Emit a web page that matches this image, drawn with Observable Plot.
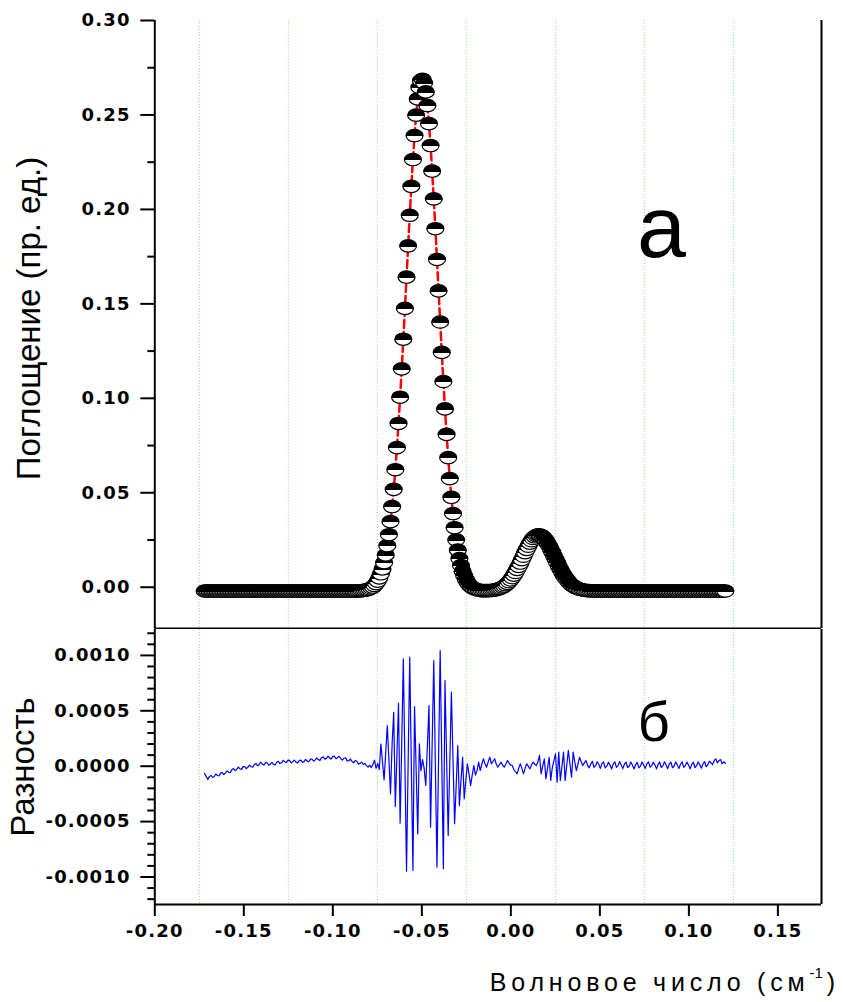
<!DOCTYPE html>
<html>
<head>
<meta charset="utf-8">
<script src="https://cdn.jsdelivr.net/npm/d3@7"></script>
<script src="https://cdn.jsdelivr.net/npm/@observablehq/plot@0.6"></script>
<style>
  html, body { margin: 0; padding: 0; background: #fff; }
  #chart svg { display: block; }
  #chart g[aria-label$="tick label"] text { font-family: "DejaVu Sans", sans-serif; font-size: 18px; font-weight: bold; letter-spacing: 1.2px; }
  #xtitle { position: absolute; top: 968px; right: 3px; font-family: "Liberation Sans", Arial, sans-serif;
            font-size: 25px; letter-spacing: 4.8px; color: #000; white-space: nowrap; }
  #xtitle sup { font-size: 15px; position: relative; top: -4px; letter-spacing: 0; margin-right: 4px; }
</style>
</head>
<body>
<svg width="0" height="0" style="position:absolute">
  <defs>
    <linearGradient id="halfFill" x1="0" y1="0" x2="0" y2="1">
      <stop offset="0" stop-color="#000"/>
      <stop offset="0.56" stop-color="#000"/>
      <stop offset="0.56" stop-color="#fff"/>
      <stop offset="1" stop-color="#fff"/>
    </linearGradient>
  </defs>
</svg>
<div id="chart"></div>
<div id="xtitle">Волновое число (см<sup>-1</sup>)</div>
<script>
// ---- data (uniform sampling in wavenumber) ----
const xStart = -0.172;
const xStep = 0.0009;

// absorption, units of 1e-4
const absorption = [
-20,-20,-20,-20,-20,-20,-20,-20,-20,-20,
-20,-20,-20,-20,-20,-20,-20,-20,-20,-20,
-20,-20,-20,-20,-20,-20,-20,-20,-20,-20,
-20,-20,-20,-20,-20,-20,-20,-20,-20,-20,
-20,-20,-20,-20,-20,-20,-20,-20,-20,-20,
-20,-20,-20,-20,-20,-20,-20,-20,-20,-20,
-20,-20,-20,-20,-20,-20,-20,-20,-20,-20,
-20,-20,-20,-20,-20,-20,-20,-20,-20,-20,
-20,-20,-20,-20,-20,-20,-20,-20,-20,-20,
-20,-20,-20,-20,-20,-20,
-19,-19,-18,-17,-16,-14,-12,-9,-4,1,
9,19,32,49,71,97,130,171,220,278,
347,427,518,622,739,867,1006,1156,1313,1476,
1642,1807,1969,2122,2264,2391,2499,2585,2646,2682,
2689,2670,2622,2550,2454,2338,2203,2056,1898,1735,
1569,1404,1243,1089,944,809,686,575,476,390,
315,251,197,152,115,85,61,41,26,14,
5,-1,-7,-10,-13,-15,-17,-18,-18,-18,
-18,-18,-17,-17,-16,-14,-13,-10,-7,-4,
1,6,13,20,29,39,51,64,78,94,
110,128,146,164,183,200,217,233,246,258,
267,273,277,277,274,268,259,248,234,219,
202,185,166,148,130,112,96,80,65,52,
41,30,21,13,7,1,-3,-7,-10,-12,
-14,-16,-17,-18,-18,-19,-19,-19,
-20,-20,-20,-20,-20,-20,-20,-20,-20,-20,
-20,-20,-20,-20,-20,-20,-20,-20,-20,-20,
-20,-20,-20,-20,-20,-20,-20,-20,-20,-20,
-20,-20,-20,-20,-20,-20,-20,-20,-20,-20,
-20,-20,-20,-20,-20,-20,-20,-20,-20,-20,
-20,-20,-20,-20,-20,-20,-20,-20,-20,-20,
-20,-20,-20,-20,-20,-20,-20,-20,-20,-20,
-20,-20,-20,-20,-20,-20,-20,-20,-20,-20,
-20,-20
];

// difference (residual), units of 1e-6
const residual = [
-65,-94,-119,-92,-83,-102,-93,-70,-84,-87,
-61,-58,-76,-61,-42,-55,-58,-31,-21,-39,
-29,-8,-23,-29,-4,-3,-22,-9,10,-5,
-9,16,25,5,14,36,18,10,32,31,
9,19,34,16,11,36,44,24,32,54,
39,33,55,53,31,41,55,37,29,50,
55,34,41,62,46,40,64,65,45,57,
74,59,53,77,84,64,71,91,73,66,
89,89,67,78,89,67,55,74,75,48,
49,65,43,31,50,45,19,26,37,15,
25,5,-8,10,-12,15,55,-20,25,-30,
200,40,-123,120,367,60,-249,200,487,-364,
100,569,-514,200,969,10,-948,20,984,0,
-941,539,-30,-610,202,-40,60,-20,-174,180,
548,-550,200,954,0,-911,60,1044,50,-926,
773,80,-625,20,668,70,-520,-170,187,-355,
-130,81,-294,-130,22,-70,-174,-80,6,-80,
-40,36,-39,20,67,20,-9,40,81,22,
45,67,20,-9,15,36,10,-9,20,51,
30,10,6,-30,-50,-69,-20,22,-20,-69,
-20,22,0,-24,10,36,20,6,40,97,
-69,0,67,-114,-20,81,-129,-10,50,112,
-144,127,-129,0,127,-129,10,142,20,-99,
127,40,-39,20,81,40,6,30,51,10,
-15,20,45,-10,5,40,15,-20,25,38,
-15,0,35,10,-25,20,40,-10,5,42,
12,-22,18,36,-12,2,38,8,-25,15,
35,-15,0,38,10,-20,22,40,-8,5,
36,12,-24,16,38,-12,3,40,10,-22,
20,36,-14,2,38,12,-20,18,40,-10,
6,37,10,-24,15,36,-12,4,38,14,
-18,20,42,-5,12,45,30,15,50,67,
30,50,60,22,40,25
];

const xTicks = [-0.20, -0.15, -0.10, -0.05, 0.00, 0.05, 0.10, 0.15];
const gridX = [-0.175, -0.125, -0.075, -0.025, 0.025, 0.075, 0.125];
const topYTicks = [0.00, 0.05, 0.10, 0.15, 0.20, 0.25, 0.30];
const topYMinor = [0.025, 0.075, 0.125, 0.175, 0.225, 0.275];
const botYTicks = [-0.0010, -0.0005, 0.0000, 0.0005, 0.0010];
const botYMinor = [-0.0012, -0.0011, -0.0009, -0.0008, -0.0007, -0.0006, -0.0004, -0.0003, -0.0002, -0.0001,
                   0.0001, 0.0002, 0.0003, 0.0004, 0.0006, 0.0007, 0.0008, 0.0009, 0.0011, 0.0012];

const topLabel = "Поглощение (пр. ед.)";
const botLabel = "Разность";
const panelA = "а";
const panelB = "б";

const topData = absorption.map((v, i) => ({x: xStart + i * xStep, y: v / 1e4}));
const botData = residual.map((v, i) => ({x: xStart + i * xStep, y: v / 1e6}));

// ---- layout ----
const W = 843;
const xDomain = [-0.2, 0.1745];
const mL = 154.3, mR = 22;
const topDomain = [-0.02185, 0.30];
const botDomain = [-0.0012482, 0.0012338];
const FONT = "Liberation Sans, Arial, Helvetica, sans-serif";
const gridColor = "#7fea7f";

const halfEllipse = {
  draw(ctx) {
    const rx = 8.5, ry = 6.2, k = 0.5523;
    ctx.moveTo(-rx, 0);
    ctx.bezierCurveTo(-rx, -k * ry, -k * rx, -ry, 0, -ry);
    ctx.bezierCurveTo(k * rx, -ry, rx, -k * ry, rx, 0);
    ctx.bezierCurveTo(rx, k * ry, k * rx, ry, 0, ry);
    ctx.bezierCurveTo(-k * rx, ry, -rx, k * ry, -rx, 0);
    ctx.closePath();
  }
};

const styleBase = {fontFamily: FONT, fontSize: "18px", fontWeight: "bold", color: "#000", background: "#fff"};

const topPlot = Plot.plot({
  width: W, height: 629,
  marginLeft: mL, marginRight: mR, marginTop: 20, marginBottom: 1,
  style: styleBase,
  x: {domain: xDomain, axis: null, label: null},
  y: {domain: topDomain, label: null},
  marks: [
    Plot.ruleX(gridX, {stroke: gridColor, strokeWidth: 1, strokeDasharray: "1,2"}),
    Plot.line(topData, {x: "x", y: "y", stroke: "#ff0000", strokeWidth: 2.5, strokeDasharray: "8,4"}),
    Plot.dot(topData, {x: "x", y: "y", symbol: halfEllipse, fill: "url(#halfFill)", stroke: "#000", strokeWidth: 1.2}),
    Plot.axisY({ticks: topYTicks, tickSize: 14, tickPadding: 10, strokeWidth: 2, label: null, tickFormat: d => d.toFixed(2)}),
    Plot.axisY({ticks: topYMinor, tickSize: 7, strokeWidth: 2, label: null, tickFormat: () => ""}),
    Plot.ruleX([xDomain[0]], {stroke: "#000", strokeWidth: 2}),
    Plot.ruleX([xDomain[1]], {stroke: "#000", strokeWidth: 2}),
    Plot.ruleY([topDomain[0]], {stroke: "#000", strokeWidth: 2}),
    Plot.text([topLabel], {text: d => d, frameAnchor: "left", dx: -125, dy: -6, rotate: -90,
      fontSize: 33, fontWeight: "normal", fontFamily: FONT, textAnchor: "middle"}),
    Plot.text([{x: 0.0709, y: 0.175, t: panelA}], {x: "x", y: "y", text: "t", fontSize: 88,
      fontWeight: "normal", fontFamily: FONT, textAnchor: "start", lineAnchor: "bottom"})
  ]
});

const botPlot = Plot.plot({
  width: W, height: 315,
  marginLeft: mL, marginRight: mR, marginTop: 0, marginBottom: 40,
  style: styleBase,
  x: {domain: xDomain, label: null},
  y: {domain: botDomain, label: null},
  marks: [
    Plot.ruleX(gridX, {stroke: gridColor, strokeWidth: 1, strokeDasharray: "1,2"}),
    Plot.line(botData, {x: "x", y: "y", stroke: "#0000ff", strokeWidth: 1.2}),
    Plot.axisY({ticks: botYTicks, tickSize: 14, tickPadding: 10, strokeWidth: 2, label: null, tickFormat: d => d.toFixed(4)}),
    Plot.axisY({ticks: botYMinor, tickSize: 7, strokeWidth: 2, label: null, tickFormat: () => ""}),
    Plot.axisX({ticks: xTicks, tickSize: 12, tickPadding: 8, strokeWidth: 2, label: null, tickFormat: d => d.toFixed(2)}),
    Plot.ruleX([xDomain[0]], {stroke: "#000", strokeWidth: 2}),
    Plot.ruleX([xDomain[1]], {stroke: "#000", strokeWidth: 2}),
    Plot.ruleY([botDomain[0]], {stroke: "#000", strokeWidth: 2}),
    Plot.text([botLabel], {text: d => d, frameAnchor: "left", dx: -131, rotate: -90,
      fontSize: 33, fontWeight: "normal", fontFamily: FONT, textAnchor: "middle"}),
    Plot.text([{x: 0.0713, y: 0.000223, t: panelB}], {x: "x", y: "y", text: "t", fontSize: 56,
      fontWeight: "normal", fontFamily: FONT, textAnchor: "start", lineAnchor: "bottom"})
  ]
});

const chart = document.getElementById("chart");
chart.appendChild(topPlot);
chart.appendChild(botPlot);
</script>
</body>
</html>
